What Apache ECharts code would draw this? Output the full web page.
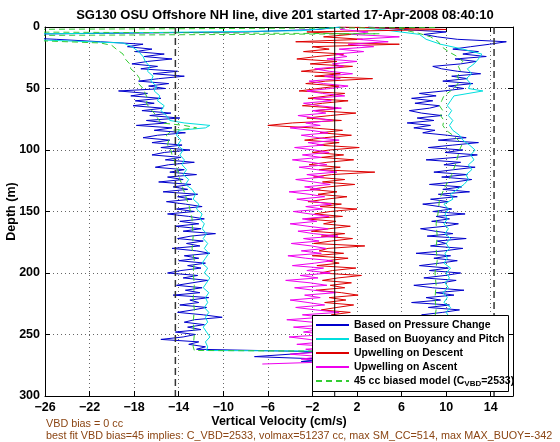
<!DOCTYPE html>
<html><head><meta charset="utf-8">
<script src="https://cdn.jsdelivr.net/npm/echarts@6/dist/echarts.min.js"></script>
<style>html,body{margin:0;padding:0;background:#fff}#c{width:560px;height:442px}</style>
</head><body><div id="c"></div>
<script>
// ---------- DATA (velocity in cm/s, depth in m) ----------
const titleText = 'SG130 OSU Offshore NH line, dive 201 started 17-Apr-2008 08:40:10';
const xLabel = 'Vertical Velocity (cm/s)';
const yLabel = 'Depth (m)';
const legendNames = ['Based on Pressure Change','Based on Buoyancy and Pitch','Upwelling on Descent','Upwelling on Ascent','45 cc biased model (C_VBD=2533)'];
const note1 = 'VBD bias = 0 cc';
const note2 = 'best fit VBD bias=45 implies: C_VBD=2533, volmax=51237 cc, max SM_CC=514, max MAX_BUOY=-342';
const xMin = -26, xMax = 16, xStep = 4;
const yMin = 0, yMax = 300, yStep = 50;
const limitVel = [-14.3, 14.3];
const zeroVel = 0;

const gridDown2 = [0,2,4,6,8,10,12,14,16,18,20,22,24,26,28,30,32,34,36,38,40,42,44,46,48,50,52,54,56,58,60,62,64,66,68,70,72,74,76,78,80,82,84,86,88,90,92,94,96,98,100,102,104,106,108,110,112,114,116,118,120,122,124,126,128,130,132,134,136,138,140,142,144,146,148,150,152,154,156,158,160,162,164,166,168,170,172,174,176,178,180,182,184,186,188,190,192,194,196,198,200,202,204,206,208,210,212,214,216,218,220,222,224,226,228,230,232,234,236,238,240,242,244,246,248,250,252,254,256,258,260,262];
const gridUp2 = [264,262,260,258,256,254,252,250,248,246,244,242,240,238,236,234,232,230,228,226,224,222,220,218,216,214,212,210,208,206,204,202,200,198,196,194,192,190,188,186,184,182,180,178,176,174,172,170,168,166,164,162,160,158,156,154,152,150,148,146,144,142,140,138,136,134,132,130,128,126,124,122,120,118,116,114,112,110,108,106,104,102,100,98,96,94,92,90,88,86,84,82,80,78,76,74,72,70,68,66,64,62,60,58,56,54,52,50,48,46,44,42,40,38,36,34,32,30,28,26,24,22,20,18,16,14,12,10,8,6,4,2,0];
const magentaDepth = [274,272,270,268,266,264,262,260,258,256,254,252,250,248,246,244,242,240,238,236,234,232,230,228,226,224,222,220,218,216,214,212,210,208,206,204,202,200,198,196,194,192,190,188,186,184,182,180,178,176,174,172,170,168,166,164,162,160,158,156,154,152,150,148,146,144,142,140,138,136,134,132,130,128,126,124,122,120,118,116,114,112,110,108,106,104,102,100,98,96,94,92,90,88,86,84,82,80,78,76,74,72,70,68,66,64,62,60,58,56,54,52,50,48,46,44,42,40,38,36,34,32,30,28,26,24,22,20,18,16,14,12,10,8,6,4,2,0];

const blueDown = [0.5,-1.5,-8,-30,-30,-25,-21,-17.2,-18.6,-16.4,
-17.9,-15.3,-17.1,-14.6,-16.8,-18.2,-15.9,-17.4,-14.1,-16.3,
-13.5,-15.8,-17.6,-14.9,-16.7,-15.2,-19.4,-16.8,-18.3,-15.6,
-17.9,-16.2,-18.1,-15.4,-17.3,-14.7,-16.6,-13.9,-16.9,-15.1,
-17.8,-14.6,-16.2,-13.4,-15.9,-17.2,-14.8,-16.4,-13.7,-15.6,
-13.0,-15.3,-16.4,-13.8,-15.2,-12.6,-14.9,-16.1,-13.5,-14.8,
-12.4,-15.0,-13.6,-15.8,-12.9,-14.5,-13.2,-15.4,-12.3,-14.1,
-12.8,-15.1,-13.4,-11.9,-14.2,-12.6,-15.0,-13.1,-11.7,-13.9,
-12.2,-14.3,-12.0,-13.6,-10.7,-12.9,-14.1,-11.8,-13.3,-12.1,
-14.6,-12.4,-11.2,-13.5,-12.2,-14.0,-11.6,-13.2,-12.0,-13.8,
-15.0,-12.3,-13.6,-11.4,-12.8,-14.2,-11.9,-13.4,-12.1,-14.5,
-11.3,-13.0,-12.2,-13.9,-11.5,-12.7,-14.1,-11.8,-10.1,-12.6,
-13.5,-11.7,-13.2,-12.0,-14.3,-12.5,-13.6,-15.6,-12.2,-13.1,
-11.6,-12.4];
const blueBottomDepth = [264,266,268,270,272,270];
const blueBottomVel = [-1.5,-4,-7.2,-1,-3,2];
const blueUp = [7.2,9.8,8.1,10.6,8.7,11.4,9.0,7.4,9.9,8.3,
10.8,9.2,11.9,8.6,10.1,7.8,9.7,11.2,8.4,10.3,
6.9,9.5,8.2,10.7,9.1,11.6,8.8,7.1,9.6,10.9,
8.0,9.9,11.3,8.5,10.2,7.6,9.4,11.0,8.9,10.4,
7.3,9.8,11.5,8.6,10.0,9.2,11.8,8.3,10.6,9.0,
7.7,9.9,11.1,8.7,10.3,9.1,11.7,8.8,10.5,9.4,
7.9,10.2,8.6,11.0,9.3,12.1,9.7,11.4,8.5,10.8,
12.3,9.6,11.9,8.9,10.7,12.6,9.8,11.3,8.2,10.9,
12.8,9.9,11.5,8.4,10.6,12.9,9.3,11.8,10.1,7.9,
9.0,7.1,8.6,6.5,8.9,7.4,9.6,7.8,6.7,8.5,
9.4,7.2,8.8,6.9,9.1,7.6,9.8,11.6,10.2,12.4,
9.7,11.9,10.5,13.1,11.0,9.6,8.8,11.3,12.7,10.8,
13.6,11.5,12.9,10.6,12.2,13.9,15.4,11.0,9.2,8.0,
10.0,6.0,3.0];

const cyanDownDepth = [0,3,6,10,13,16,20,24,28,32,36,40,44,48,52,56,60,64,68,72,76,78,80,82,84,88,92,96,100,104,108,112,116,120,124,128,132,136,140,144,148,152,156,160,164,168,172,176,180,184,188,192,196,200,204,208,212,216,220,224,228,232,236,240,244,248,252,256,260,263];
const cyanDownVel = [0.5,-3,-30,-28,-19,-18.2,-17.6,-17.2,-17.0,-16.6,-16.8,-16.3,-16.5,-16.0,-16.2,-15.7,-15.9,-15.3,-15.6,-15.1,-14.8,-13.5,-11.2,-11.6,-14.0,-14.2,-13.8,-14.1,-13.6,-13.9,-13.5,-13.7,-13.3,-13.6,-13.1,-13.4,-12.8,-12.5,-12.7,-12.2,-12.4,-11.9,-12.1,-11.7,-11.9,-11.5,-11.8,-11.4,-11.7,-11.3,-11.6,-11.9,-11.4,-11.7,-11.2,-11.5,-11.8,-11.3,-11.6,-11.4,-11.7,-11.3,-11.6,-11.4,-11.8,-11.5,-11.2,-11.6,-11.4,-11.5];
const cyanUpDepth = [264,260,256,252,248,244,240,236,232,228,224,220,216,212,208,204,200,196,192,188,184,180,176,172,168,164,160,156,152,148,144,140,136,132,128,124,120,116,112,108,104,100,96,92,88,84,80,76,72,68,64,60,56,52,50,46,42,38,34,30,26,22,18,14,10,6,3,0];
const cyanUpVel = [8.8,9.6,9.9,10.1,9.8,10.2,9.9,10.3,10.0,10.4,9.8,10.1,9.7,10.2,9.9,10.3,10.0,10.4,9.8,10.1,9.9,10.3,10.0,10.4,9.9,10.2,9.8,10.1,9.9,10.2,9.8,10.6,10.4,11.0,11.6,12.0,11.8,12.3,12.0,12.5,12.2,12.6,12.1,11.5,11.2,10.6,10.3,10.6,10.2,10.5,10.1,10.4,10.7,13.3,12.0,12.2,11.8,12.3,11.9,12.5,12.9,13.2,11.5,9.5,8.2,7.6,5.0,2.0];

const redDepth = gridDown2;
const redVel = [0.5,10.0,-2.5,1.5,-1.0,2.5,-3.5,5.8,-2.0,-0.5,
-2.8,0.8,-1.6,-3.4,0.2,-2.2,1.6,-1.0,-3.0,0.5,
-1.8,3.4,-0.8,-2.6,0.4,-1.5,-3.2,0.9,-0.6,-2.4,
1.2,-1.1,-2.9,0.3,-1.7,1.9,-0.4,-2.5,0.6,-3.8,
-6.0,-2.1,0.7,-1.3,1.5,-0.9,-2.7,0.4,-1.6,2.2,
-0.5,-2.0,0.8,-1.2,1.7,-0.7,-2.3,0.5,-1.4,3.6,
-0.3,-1.9,0.9,-1.1,1.8,-0.6,-2.2,0.2,-1.5,1.1,
-0.8,-2.4,0.6,-1.3,2.0,-0.4,-1.8,0.7,-2.6,0.1,
-1.0,1.4,-0.5,-2.1,0.9,-1.2,1.6,-0.3,-1.9,2.7,
-0.6,-1.4,0.8,-2.0,1.2,-0.7,0.4,-1.6,1.9,-0.2,
-1.3,2.4,0.3,-1.1,1.5,-0.4,0.9,-1.7,0.6,2.1,
-0.5,1.0,-0.9,1.7,0.2,-1.2,1.4,-0.3,2.0,0.1,
-1.0,1.3,-0.6,0.8,2.2,-0.4,1.1,-0.8,0.5,1.6,
-0.3,0.8];

const magentaVel = [-6.5,0.5,-3.0,-1.2,-4.0,-0.8,-2.6,0.2,-3.4,-1.0,
-2.3,-4.1,-0.6,-2.8,-1.4,-3.7,-0.3,-2.0,-4.3,-1.1,
-2.9,0.4,-1.7,-3.5,-0.9,-2.4,-4.0,-1.3,-2.7,0.1,
-1.9,-3.6,-0.7,-2.2,-4.4,-1.5,-3.1,-0.4,-2.5,-1.0,
-3.8,-1.8,-0.2,-2.6,-4.2,-1.2,-3.0,-0.8,-2.1,-3.9,
-1.4,-2.8,0.3,-1.9,-3.3,-0.6,-2.4,-4.0,-1.6,-2.9,
-0.5,-2.2,-3.7,-1.1,-2.6,-0.3,-1.8,-3.4,-0.9,-2.3,
-4.1,-1.3,-2.7,-0.4,-1.9,-3.5,-1.0,-2.5,0.2,-1.6,
-3.2,-0.7,-2.1,-3.8,-1.2,-2.9,-0.5,-1.8,-3.6,-1.0,
-2.4,0.4,-1.5,-3.0,-0.6,-2.2,-4.0,-1.3,-2.6,-0.2,
-1.7,-3.3,-0.8,-2.0,0.6,-1.4,-2.8,-0.3,-1.9,0.9,
-1.1,-2.5,-0.4,1.2,-1.0,-2.3,0.5,-0.9,1.6,-0.5,
-1.8,0.8,-0.2,2.0,-0.7,1.1,0.1,2.6,0.4,3.5,
1.2,4.8,2.0,5.8,1.5,3.0,0.5,1.0];

const greenDownDepth = [0.5,2,4,5.5,7,10,13,15,18,22,26,30,34,38,42,46,50,54,58,62,66,70,74,78,80,82,84,88,92,96,100,104,108,112,116,120,124,128,132,136,140,144,148,152,156,160,170,180,190,200,210,220,230,240,250,260,263];
const greenDownVel = [9,-30,-30,4,-30,-30,-21,-20.0,-19.6,-19.0,-18.8,-18.4,-18.3,-17.8,-17.5,-17.6,-17.2,-17.0,-16.8,-16.9,-16.6,-16.2,-15.9,-15.6,-13.5,-12.4,-14.6,-15.1,-14.9,-15.0,-14.7,-14.6,-14.4,-14.3,-14.1,-14.0,-13.9,-13.7,-13.6,-13.4,-13.3,-13.1,-13.0,-12.9,-12.8,-12.8,-12.7,-12.8,-12.6,-12.7,-12.6,-12.7,-12.6,-12.7,-12.6,-12.7,-12.6];
const greenUpDepth = [264,260,250,240,230,220,210,200,190,180,170,160,150,140,130,120,110,100,96,92,88,84,80,76,72,68,64,60,56,52,48,44,40,36,32,28,24,20,16,12,8,5,3,1];
const greenUpVel = [8.6,8.9,9.0,8.9,9.1,9.0,9.1,9.0,9.2,9.1,9.2,9.1,9.3,9.4,9.9,10.5,10.9,11.2,11.4,11.1,10.6,10.0,9.7,9.8,9.5,9.7,9.4,9.6,9.8,10.4,10.9,11.2,11.0,11.3,11.1,11.5,11.0,10.2,9.6,9.3,8.6,7.5,6.5,5.8];

// ---------- BUILD ----------
function pairs(depths, vels) {
  const n = Math.min(depths.length, vels.length), out = [];
  for (let i = 0; i < n; i++) out.push([vels[i], depths[i]]);
  return out;
}
const blueData = pairs(gridDown2, blueDown).concat(pairs(blueBottomDepth, blueBottomVel), pairs(gridUp2, blueUp));
const cyanData = pairs(cyanDownDepth, cyanDownVel).concat(pairs(cyanUpDepth, cyanUpVel));
const redData = pairs(redDepth, redVel);
const magentaData = pairs(magentaDepth, magentaVel);
const greenData = pairs(greenDownDepth, greenDownVel).concat(pairs(greenUpDepth, greenUpVel));

const FONT = '"Liberation Sans", Arial, Helvetica, sans-serif';
const minus = v => (v < 0 ? '\u2212' + Math.abs(v) : String(v));
const labelStyle = { color: '#000', fontFamily: FONT, fontWeight: 'bold', fontSize: 12.5 };
const dotted = { show: true, lineStyle: { color: '#666', width: 1, type: [1, 3] } };

function lineSeries(name, data, color, extra) {
  return Object.assign({
    name: name, type: 'line', data: data, symbol: 'none', showSymbol: false,
    clip: true, silent: true, animation: false,
    lineStyle: { color: color, width: 1 }, itemStyle: { color: color }
  }, extra || {});
}
function vline(v, style) {
  return { type: 'line', data: [[v, yMin], [v, yMax]], symbol: 'none', silent: true,
    lineStyle: style, itemStyle: { color: style.color }, z: 5, animation: false };
}

const chart = echarts.init(document.getElementById('c'), null, { renderer: 'canvas' });
chart.setOption({
  animation: false,
  backgroundColor: '#fff',
  title: { text: titleText, left: 280, top: 4, textAlign: 'center',
    textStyle: { color: '#000', fontFamily: FONT, fontWeight: 'bold', fontSize: 13 } },
  grid: { left: 45, right: 47, top: 27, bottom: 46, outerBoundsMode: 'none' },
  xAxis: [
    { type: 'value', min: xMin, max: xMax, interval: xStep, position: 'bottom',
      axisLine: { onZero: false, lineStyle: { color: '#000', width: 1 } },
      axisTick: { inside: true, length: 5, lineStyle: { color: '#000' } },
      axisLabel: Object.assign({ margin: 5, showMaxLabel: false, formatter: minus }, labelStyle),
      splitLine: dotted,
      name: xLabel, nameLocation: 'middle', nameGap: 19, nameMoveOverlap: false, nameTextStyle: labelStyle },
    { type: 'value', min: xMin, max: xMax, interval: xStep, position: 'top',
      axisLine: { onZero: false, lineStyle: { color: '#000', width: 1 } },
      axisTick: { inside: true, length: 5, lineStyle: { color: '#000' } },
      axisLabel: { show: false }, splitLine: { show: false } }
  ],
  yAxis: [
    { type: 'value', inverse: true, min: yMin, max: yMax, interval: yStep, position: 'left',
      axisLine: { onZero: false, lineStyle: { color: '#000', width: 1 } },
      axisTick: { inside: true, length: 5, lineStyle: { color: '#000' } },
      axisLabel: Object.assign({ margin: 5 }, labelStyle),
      splitLine: dotted,
      name: yLabel, nameLocation: 'middle', nameGap: 27, nameRotate: 90, nameMoveOverlap: false, nameTextStyle: labelStyle },
    { type: 'value', inverse: true, min: yMin, max: yMax, interval: yStep, position: 'right',
      axisLine: { onZero: false, lineStyle: { color: '#000', width: 1 } },
      axisTick: { inside: true, length: 5, lineStyle: { color: '#000' } },
      axisLabel: { show: false }, splitLine: { show: false } }
  ],
  legend: {
    data: legendNames, orient: 'vertical', left: 312, top: 315,
    backgroundColor: 'transparent', borderWidth: 0,
    padding: [3, 4, 3, 3], itemWidth: 33, itemHeight: 10, itemGap: 0,
    itemStyle: { opacity: 0 },
    selectedMode: false, z: 10,
    textStyle: { color: '#000', fontFamily: FONT, fontWeight: 'bold', fontSize: 10.5, lineHeight: 14,
      rich: {
        a: { color: '#000', fontFamily: FONT, fontWeight: 'bold', fontSize: 10.5, lineHeight: 14 },
        s: { color: '#000', fontFamily: FONT, fontWeight: 'bold', fontSize: 8, lineHeight: 14, padding: [6, 0, 0, 0] }
      } },
    formatter: function (n) {
      if (n === legendNames[4]) return '{a|45 cc biased model (C}{s|VBD}{a|=2533)}';
      return n;
    }
  },
  graphic: [
    { type: 'rect', left: 312, top: 315, z: 9, silent: true,
      shape: { width: 196, height: 76 }, style: { fill: '#fff', stroke: '#000', lineWidth: 1 } },
    { type: 'text', left: 46, top: 419, style: { text: note1, fill: '#8b4513', font: '10.8px ' + FONT } },
    { type: 'text', left: 46, top: 431, style: { text: note2, fill: '#8b4513', font: '10.8px ' + FONT } }
  ],
  series: [
    lineSeries(legendNames[0], blueData, '#0000cc'),
    lineSeries(legendNames[1], cyanData, '#00dede'),
    lineSeries(legendNames[2], redData, '#dd0000'),
    lineSeries(legendNames[3], magentaData, '#ee00ee'),
    lineSeries(legendNames[4], greenData, '#33cc33', { lineStyle: { color: '#33cc33', width: 1, type: [6, 4] } }),
    vline(limitVel[0], { color: '#333', width: 1.5, type: [7, 4] }),
    vline(limitVel[1], { color: '#333', width: 1.5, type: [7, 4] }),
    vline(zeroVel, { color: '#000', width: 1, type: 'solid' })
  ]
});
</script>
</body></html>
